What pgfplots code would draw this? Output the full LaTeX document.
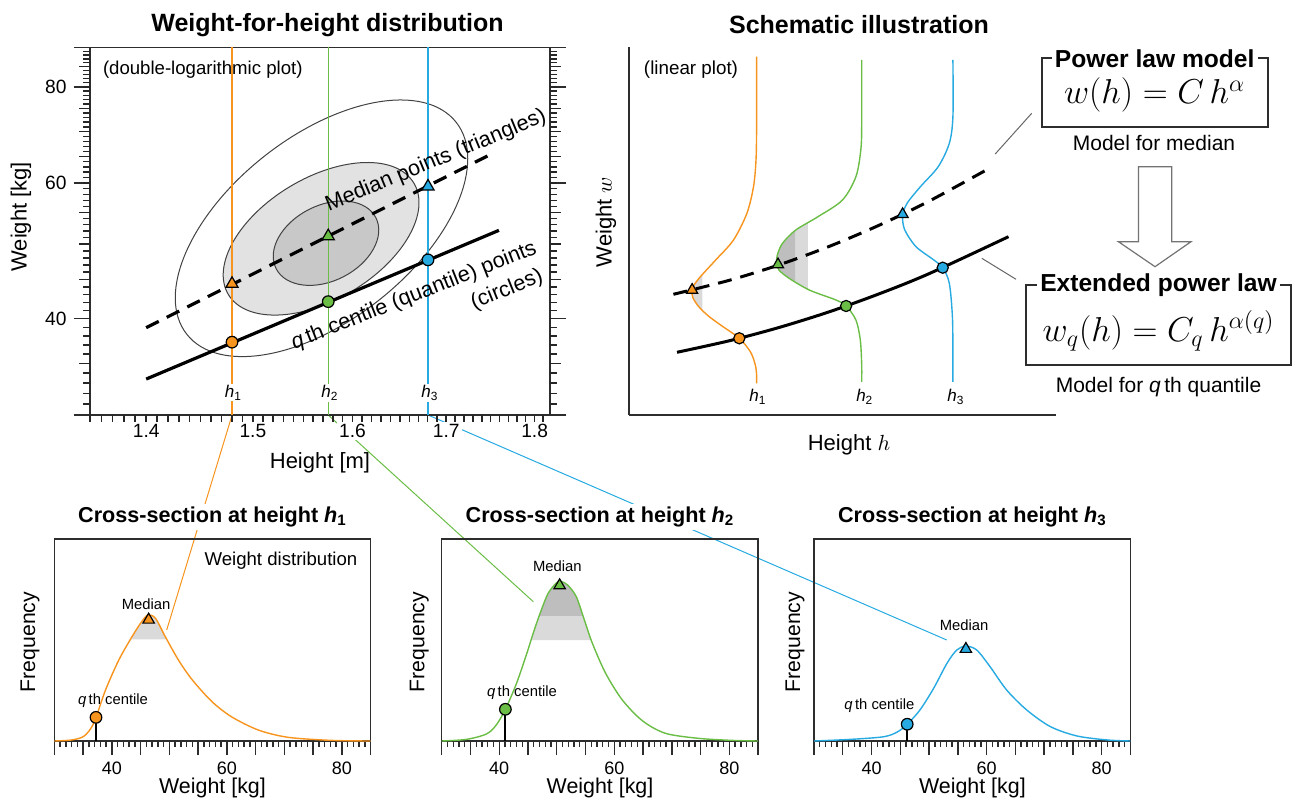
\documentclass[border=0pt]{standalone}
\usepackage{pgfplots}
\pgfplotsset{compat=1.18}
\usepackage{fontspec}
\setmainfont{Liberation Sans}
\definecolor{cOr}{RGB}{247,148,30}
\definecolor{cGr}{RGB}{106,189,69}
\definecolor{cBl}{RGB}{39,170,225}
\definecolor{ellMid}{RGB}{226,226,226}
\definecolor{ellIn}{RGB}{200,200,200}
\definecolor{shLight}{RGB}{218,218,218}
\definecolor{shDark}{RGB}{190,190,190}
\definecolor{axc}{RGB}{45,45,45}
\newcommand{\fs}[1]{\fontsize{#1}{#1}\selectfont}

\pgfplotsset{
  botax/.style={anchor=south west, scale only axis, width=158.2pt, height=101pt,
    xmin=30, xmax=85, ymin=0, ymax=1, ytick=\empty,
    xtick={30,35,40,45,50,55,60,65,70,75,80,85},
    xticklabels={,,40,,,,60,,,,80,},
    minor x tick num=4, tick align=outside, xtick pos=left,
    major tick length=7pt, minor tick length=2.8pt,
    axis line style={axc, line width=0.7pt}, tick style={axc, line width=0.7pt},
    ticklabel style={font=\fs{9}}},
  curv/.style={line width=0.7pt, smooth},
  mc/.style={only marks, mark=*, mark size=2.9pt, mark options={fill=#1, draw=black, line width=0.6pt}},
  mt/.style={only marks, mark=triangle*, mark size=3.5pt, mark options={fill=#1, draw=black, line width=0.6pt}},
}

\begin{document}
\begin{tikzpicture}
\useasboundingbox (0,0) rectangle (646.5pt,401pt);

% connectors and density contours (drawn first, behind the plots)
\begin{scope}[x=0.5pt,y=-0.5pt,shift={(0pt,401pt)}]
\draw[cOr, line width=0.5pt] (232.1,415) -- (166.7,630);
\draw[cGr, line width=0.5pt] (328.2,415) -- (533.3,601.7);
\draw[cBl, line width=0.5pt] (428,415) -- (946.7,640);
\draw[axc!90, line width=0.5pt, rotate around={38.2:(321.5,228.3)}] (321.5,228.3) ellipse [x radius=171.4, y radius=92];
\draw[axc!90, fill=ellMid, line width=0.5pt, rotate around={31:(321.1,238.8)}] (321.1,238.8) ellipse [x radius=108.2, y radius=60.8];
\draw[axc!90, fill=ellIn, line width=0.5pt, rotate around={27:(326,243.2)}] (326,243.2) ellipse [x radius=56, y radius=37.8];
\end{scope}

% ---------------- Panel A: double-log ----------------
\begin{axis}[at={(45pt,193.5pt)}, anchor=south west, scale only axis,
  width=230pt, height=183.75pt,
  xmode=log, ymode=log, xmin=1.35, xmax=1.818, ymin=30, ymax=90,
  xtick=\empty,
  extra x ticks={1.4,1.5,1.6,1.7,1.8}, extra x tick labels={1.4,1.5,1.6,1.7,1.8},
  extra x tick style={major tick length=3.3pt, xticklabel style={fill=white, inner sep=1pt}},
  ytick={30,40,60,80,90}, yticklabels={,40,60,80,},
  tick align=outside, xtick pos=left, ytick pos=both, yticklabel pos=left,
  major tick length=8.3pt,
  axis line style={axc, line width=0.7pt}, tick style={axc, line width=0.7pt},
  ticklabel style={font=\fs{9.6}},
  clip=false]
\addplot[cOr, line width=0.6pt] coordinates {(1.48,30) (1.48,90)};
\addplot[cGr, line width=0.6pt] coordinates {(1.575,30) (1.575,90)};
\addplot[cBl, line width=0.6pt] coordinates {(1.68,30) (1.68,90)};
\addplot[black, line width=1.6pt, dash pattern=on 7pt off 4.5pt] coordinates {(1.40,38.95) (1.752,65.6)};
\addplot[black, line width=1.6pt] coordinates {(1.40,33.4) (1.759,52.1)};
\addplot[mt=cOr] coordinates {(1.48,44.4)};
\addplot[mt=cGr] coordinates {(1.575,51.2)};
\addplot[mt=cBl] coordinates {(1.68,59.4)};
\addplot[mc=cOr] coordinates {(1.48,37.3)};
\addplot[mc=cGr] coordinates {(1.575,42.1)};
\addplot[mc=cBl] coordinates {(1.68,47.7)};
\end{axis}

% ---------------- Panel B: schematic ----------------
\begin{axis}[at={(314.5pt,193.5pt)}, anchor=south west, scale only axis,
  width=213.5pt, height=183.75pt, xmin=0, xmax=427, ymin=0, ymax=367.5,
  axis x line=bottom, axis y line=left, axis line style={-, axc, line width=0.8pt},
  xtick=\empty, ytick=\empty, clip=false]
% shading
\addplot[fill=shLight, draw=none] coordinates {(73.4,140.5) (72,139) (65,130) (63,124) (64,117) (70,108) (73.4,104.8)};
\addplot[fill=shLight, draw=none] coordinates {(178.8,192.2) (166,184.2) (166,133.3) (178.8,125.8)};
\addplot[fill=shDark, draw=none] coordinates {(166,184.2) (153.5,171.7) (148.3,160) (147.7,152) (149.9,145) (160.1,136.7) (166,133.3)};
% densities
\addplot[cOr, curv] coordinates {(127.6,358.3) (127.6,290) (127,255) (124.5,228.3) (117.9,201.7) (104.5,175) (86.7,155) (72,139) (65,130) (63,124) (64,117) (70,108) (80,98.5) (93,89) (110.3,76.7) (121.5,63) (126.3,50) (127.6,40) (127.6,31.7)};
\addplot[cGr, curv] coordinates {(232.7,355) (232.7,290) (231.8,265) (226.9,238.3) (213.5,215) (189,198.3) (166.8,185) (153.5,171.7) (148.3,160) (147.7,152) (149.9,145) (160.1,136.7) (180.2,125) (206.9,115) (217.1,109) (226.9,95) (231.3,75) (232.7,50) (232.7,33)};
\addplot[cBl, curv] coordinates {(323.9,355) (323.9,298.3) (320.3,271.7) (309.2,248.3) (291.4,228.3) (278.1,211.7) (273.6,199) (275.8,185) (287,168.3) (304.8,155) (313.7,147.3) (320.3,131.7) (323.4,98.3) (323.9,60) (323.9,33)};
% model curves
\addplot[black, line width=1.5pt, smooth, dash pattern=on 7pt off 4.5pt] coordinates {(44.4,120.7) (100,134.6) (150,150.1) (200,168.5) (250,189.7) (300,213.8) (360.4,246.7)};
\addplot[black, line width=1.5pt, smooth] coordinates {(48,62.7) (100,74.15) (150,87.5) (200,103.1) (250,121.1) (300,141.3) (379.5,178.3)};
\addplot[mt=cOr, mark size=3.2pt] coordinates {(63.1,125)};
\addplot[mt=cGr, mark size=3.2pt] coordinates {(149,150.5)};
\addplot[mt=cBl, mark size=3.2pt] coordinates {(273.6,200.7)};
\addplot[mc=cOr, mark size=2.8pt] coordinates {(110.3,76.7)};
\addplot[mc=cGr, mark size=2.8pt] coordinates {(217.1,109)};
\addplot[mc=cBl, mark size=2.8pt] coordinates {(313.7,147.3)};
\end{axis}

% ---------------- Bottom panel 1 ----------------
\begin{axis}[botax, at={(27.15pt,30.5pt)}]
\addplot[fill=shLight, draw=none, smooth] coordinates {(43.24,0.503) (43.5,0.516) (45.2,0.591) (46.3,0.624) (47.6,0.607) (49.3,0.516) (49.56,0.503)};
\addplot[cOr, curv] coordinates {(30,0) (33,0.005) (35,0.021) (36.3,0.06) (37.25,0.117) (38.9,0.252) (41.2,0.40) (43.5,0.516) (45.2,0.591) (46.3,0.624) (47.6,0.607) (49.3,0.516) (51.6,0.40) (54,0.302) (57.4,0.195) (60.8,0.12) (65.5,0.054) (70.7,0.018) (78.2,0.003) (85,0)};
\addplot[black, line width=0.9pt] coordinates {(37.25,0) (37.25,0.117)};
\addplot[mc=cOr] coordinates {(37.25,0.117)};
\addplot[mt=cOr, mark size=3.3pt] coordinates {(46.4,0.60)};
\node[font=\fs{7.4}] at (axis cs:45.95,0.678) {Median};
\node[font=\fs{7.4}] at (axis cs:40.2,0.2) {\textit{q}\,th centile};
\node[font=\fs{9.3}] at (axis cs:69.4,0.893) {Weight distribution};
\end{axis}

% ---------------- Bottom panel 2 ----------------
\begin{axis}[botax, at={(220.85pt,30.5pt)}]
\addplot[fill=shLight, draw=none, smooth] coordinates {(45.53,0.5) (45.9,0.533) (47.1,0.632) (48.5,0.731) (50,0.784) (50.8,0.789) (51.9,0.772) (53.4,0.714) (54.8,0.599) (55.99,0.5)};
\addplot[fill=shDark, draw=none, smooth] coordinates {(46.94,0.619) (48.5,0.731) (50,0.784) (50.8,0.789) (51.9,0.772) (53.4,0.714) (54.56,0.619)};
\addplot[cGr, curv] coordinates {(30,0) (34.3,0.008) (37.8,0.035) (39.5,0.08) (41.07,0.157) (43,0.285) (44.8,0.434) (45.9,0.533) (47.1,0.632) (48.5,0.731) (50,0.784) (50.8,0.789) (51.9,0.772) (53.4,0.714) (54.8,0.599) (56.2,0.483) (58.5,0.335) (61.4,0.203) (64.9,0.10) (68.9,0.038) (74.7,0.013) (80.5,0.003) (85,0)};
\addplot[black, line width=0.9pt] coordinates {(41.07,0) (41.07,0.157)};
\addplot[mc=cGr] coordinates {(41.07,0.157)};
\addplot[mt=cGr, mark size=3.3pt] coordinates {(50.5,0.77)};
\node[font=\fs{7.4}] at (axis cs:50.1,0.863) {Median};
\node[font=\fs{7.4}] at (axis cs:43.96,0.241) {\textit{q}\,th centile};
\end{axis}

% ---------------- Bottom panel 3 ----------------
\begin{axis}[botax, at={(407pt,30.5pt)}]
\addplot[cBl, curv] coordinates {(30,0) (36.3,0.008) (42.1,0.021) (44.5,0.045) (46.2,0.083) (48.4,0.153) (50.8,0.261) (53.1,0.384) (54.8,0.45) (56.4,0.470) (58.3,0.45) (60.6,0.368) (63.5,0.252) (67,0.153) (71.1,0.071) (75.7,0.025) (81,0.005) (85,0)};
\addplot[black, line width=0.9pt] coordinates {(46.2,0) (46.2,0.083)};
\addplot[mc=cBl] coordinates {(46.2,0.083)};
\addplot[mt=cBl, mark size=3.3pt] coordinates {(56.4,0.455)};
\node[font=\fs{7.4}] at (axis cs:56.1,0.571) {Median};
\node[font=\fs{7.4}] at (axis cs:41.36,0.175) {\textit{q}\,th centile};
\end{axis}

% ---------------- Text, fine ticks and annotations ----------------
\begin{scope}[x=0.5pt,y=-0.5pt,shift={(0pt,401pt)}]
% fine x ticks (every 0.01 m), medium and fine y ticks of panel A
\foreach \v in {1.35,1.36,...,1.815} {
  \pgfmathsetmacro\xx{90+1545.5*ln(\v/1.35)}
  \draw[black!85, line width=0.7pt] (\xx,415) -- (\xx,421.6);
}
\foreach \v in {31,32,...,89} {
  \pgfmathsetmacro\yy{415-334.5*ln(\v/30)}
  \draw[black!85, line width=0.7pt] (90,\yy) -- (83.4,\yy);
  \draw[black!85, line width=0.7pt] (550,\yy) -- (556.6,\yy);
}
\foreach \yy in {363.4,279.4,244.1,212.25,156.4,131.6,108.5,66.6} {
  \draw[black!85, line width=0.7pt] (90,\yy) -- (79.4,\yy);
  \draw[black!85, line width=0.7pt] (550,\yy) -- (560.6,\yy);
}
% titles
\node[font=\bfseries\fs{12.5}] at (327.5,25) {Weight-for-height distribution};
\node[font=\bfseries\fs{12.5}] at (859,25) {Schematic illustration};
\node[font=\bfseries\fs{10.8}, fill=white, inner sep=1.5pt] at (212.5,517) {Cross-section at height \textit{h}\textsubscript{1}};
\node[font=\bfseries\fs{10.8}, fill=white, inner sep=1.5pt] at (600,517) {Cross-section at height \textit{h}\textsubscript{2}};
\node[font=\bfseries\fs{10.8}, fill=white, inner sep=1.5pt] at (972.4,517) {Cross-section at height \textit{h}\textsubscript{3}};
% axis labels
\node[font=\fs{11}] at (320,463) {Height [m]};
\node[font=\fs{11}, rotate=90] at (21,216.7) {Weight [kg]};
\node[font=\fs{11}] at (849,445) {Height $h$};
\node[font=\fs{11}, rotate=90] at (606,222) {Weight $w$};
\foreach \xx in {30,419.3,795} {\node[font=\fs{10.6}, rotate=90] at (\xx,642) {Frequency};}
\foreach \xx in {212.5,600,972.4} {\node[font=\fs{10.7}] at (\xx,788) {Weight [kg]};}
% panel A annotations
\node[font=\fs{9.3}, anchor=west, inner sep=0pt] at (102.6,70) {(double-logarithmic plot)};
\node[font=\fs{8.5}, fill=white, inner sep=0.5pt] at (233.4,393) {\textit{h}\textsubscript{1}};
\node[font=\fs{8.5}, fill=white, inner sep=0.5pt] at (330,393) {\textit{h}\textsubscript{2}};
\node[font=\fs{8.5}, fill=white, inner sep=0.5pt] at (430,393) {\textit{h}\textsubscript{3}};
\node[font=\fs{10.8}, rotate=22.5] at (436,161) {Median points (triangles)};
\node[font=\fs{10.8}, rotate=21.5] at (414,296) {\textit{q}\,th centile (quantile) points};
\node[font=\fs{10.8}, rotate=22] at (507,290) {(circles)};
% panel B annotations
\node[font=\fs{9.4}] at (691,70) {(linear plot)};
\node[font=\fs{8.5}] at (758,396.7) {\textit{h}\textsubscript{1}};
\node[font=\fs{8.5}] at (864.8,396.7) {\textit{h}\textsubscript{2}};
\node[font=\fs{8.5}] at (956,396.7) {\textit{h}\textsubscript{3}};
% model boxes
\draw[axc, line width=1pt] (1042,58.3) rectangle (1267.5,126.7);
\node[font=\bfseries\fs{12.3}, fill=white, inner sep=1.5pt] at (1154.7,58.3) {Power law model};
\node[font=\fs{17}] at (1154.7,95) {$w(h) = C\,h^{\alpha}$};
\node[font=\fs{10.5}] at (1154,143.3) {Model for median};
\draw[black!55, line width=0.6pt, fill=white] (1138.5,166.7) -- (1171.8,166.7) -- (1171.8,241.7) -- (1191,241.7) -- (1155,266.7) -- (1118.4,241.7) -- (1138.5,241.7) -- cycle;
\draw[black!60, line width=0.5pt] (1031.7,113.3) -- (995.2,154);
\draw[black!60, line width=0.5pt] (981.8,258.3) -- (1016,279.3);
\draw[axc, line width=1pt] (1026.3,285) rectangle (1290.6,365);
\node[font=\bfseries\fs{12.3}, fill=white, inner sep=1.5pt] at (1158.5,285) {Extended power law};
\node[font=\fs{17}] at (1158.5,331) {$w_q(h) = C_q\,h^{\alpha(q)}$};
\node[font=\fs{10.5}] at (1158.5,386.7) {Model for \textit{q}\,th quantile};
\end{scope}
\end{tikzpicture}
\end{document}
